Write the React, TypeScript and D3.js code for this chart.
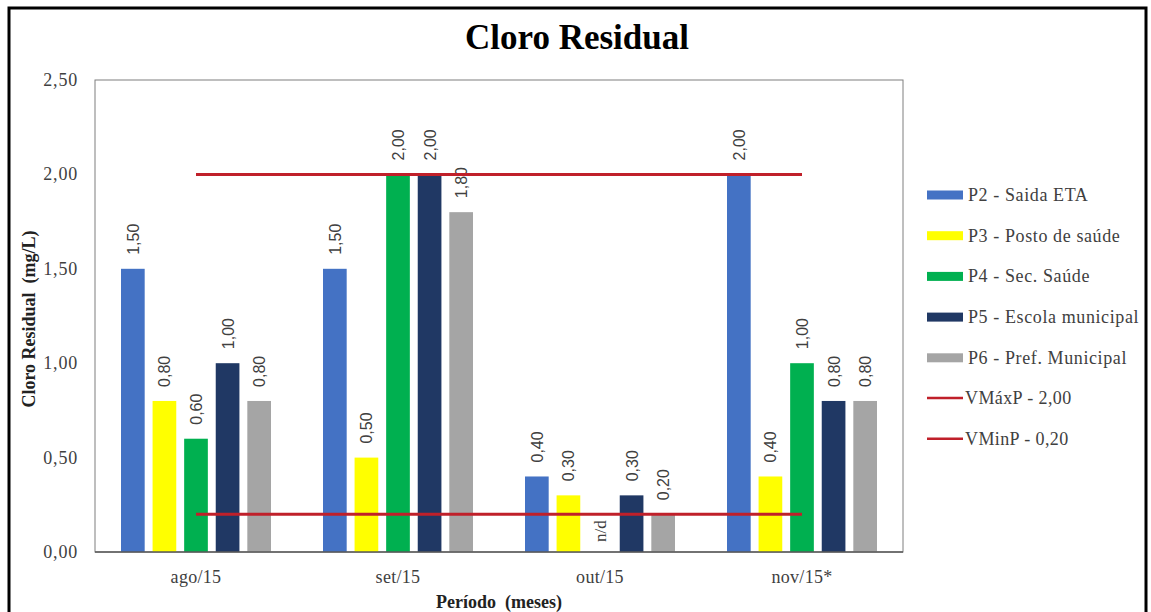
import * as d3 from 'd3';
import React from 'react';

const categories = ['ago/15', 'set/15', 'out/15', 'nov/15*'];
const seriesNames = [
    'P2 - Saida ETA',
    'P3 - Posto de saúde',
    'P4 - Sec. Saúde',
    'P5 - Escola municipal',
    'P6 - Pref. Municipal',
];
const p2 = [1.5, 1.5, 0.4, 2.0];
const p3 = [0.8, 0.5, 0.3, 0.4];
const p4 = [0.6, 2.0, null, 1.0];
const p5 = [1.0, 2.0, 0.3, 0.8];
const p6 = [0.8, 1.8, 0.2, 0.8];
const vMax = [2.0, 2.0, 2.0, 2.0];
const vMin = [0.2, 0.2, 0.2, 0.2];
const lineNames = ['VMáxP - 2,00', 'VMinP - 0,20'];
const yTicks = [0, 0.5, 1, 1.5, 2, 2.5];

const colours = ['#4472C4', '#FFFF00', '#00B050', '#203864', '#A5A5A5'];
const red = '#C0202A';
const serif = '"Liberation Serif", "Times New Roman", serif';
const sans = '"Liberation Sans", Arial, sans-serif';

const fmt = (v: number) => v.toFixed(2).replace('.', ',');

const App = () => {
    const width = 1151;
    const height = 612;
    const plot = { left: 95, right: 903, top: 80, bottom: 552 };
    const values = [p2, p3, p4, p5, p6];

    const x0 = d3.scaleBand().domain(categories).range([plot.left, plot.right]);
    const groupW = 150;
    const x1 = d3.scaleBand().domain(seriesNames)
        .range([-groupW / 2, groupW / 2]).paddingInner(0.25);
    const y = d3.scaleLinear().domain([0, 2.5]).range([plot.bottom, plot.top]);
    const cx = (c: string) => (x0(c) as number) + x0.bandwidth() / 2;

    const line = d3.line<number>()
        .x((_, i) => cx(categories[i]))
        .y(d => y(d));

    return (
        <svg width={width} height={height} style={{ position: 'absolute', left: 0, top: 0 }}>
            <rect x={0} y={0} width={width} height={height} fill="#fff" />
            <rect x={9} y={8} width={1137} height={640} fill="none" stroke="#000" strokeWidth={3} />

            <text x={577} y={49} textAnchor="middle" fontFamily={serif} fontWeight="bold" fontSize={35}>
                Cloro Residual
            </text>

            <rect x={plot.left} y={plot.top} width={plot.right - plot.left} height={plot.bottom - plot.top}
                fill="none" stroke="#7f7f7f" strokeWidth={1} />

            {yTicks.map(t => (
                <text key={t} x={78} y={y(t) + 6} textAnchor="end" fontFamily={serif} fontSize={18}
                    letterSpacing={0.8} fill="#404040">
                    {fmt(t)}
                </text>
            ))}

            {values.map((vals, s) => vals.map((v, i) => {
                const c = categories[i];
                const bx = cx(c) + (x1(seriesNames[s]) as number);
                const lx = bx + x1.bandwidth() / 2 + 6;
                if (v === null) {
                    return (
                        <text key={`${s}-${i}`} transform={`translate(${lx},${y(0) - 10}) rotate(-90)`}
                            fontFamily={serif} fontSize={17} fill="#404040">n/d</text>
                    );
                }
                return (
                    <g key={`${s}-${i}`}>
                        <rect x={bx} y={y(v)} width={x1.bandwidth()} height={y(0) - y(v)} fill={colours[s]} />
                        <text transform={`translate(${lx},${y(v) - 14}) rotate(-90)`}
                            fontFamily={sans} fontSize={16} fill="#404040">{fmt(v)}</text>
                    </g>
                );
            }))}

            <line x1={plot.left} x2={plot.right} y1={y(0)} y2={y(0)} stroke="#595959" strokeWidth={1.5} />

            <path d={line(vMax) as string} fill="none" stroke={red} strokeWidth={3} />
            <path d={line(vMin) as string} fill="none" stroke={red} strokeWidth={3} />

            {categories.map(c => (
                <text key={c} x={cx(c)} y={583} textAnchor="middle" fontFamily={serif} fontSize={18}
                    letterSpacing={0.3} fill="#404040">
                    {c}
                </text>
            ))}

            <text x={(plot.left + plot.right) / 2} y={608} textAnchor="middle" fontFamily={serif}
                fontWeight="bold" fontSize={18} fill="#222">Período&nbsp;&nbsp;(meses)</text>
            <text transform={`translate(35,${(plot.top + plot.bottom) / 2 + 3}) rotate(-90)`} textAnchor="middle"
                fontFamily={serif} fontWeight="bold" fontSize={18} fill="#222">Cloro Residual&nbsp;&nbsp;(mg/L)</text>

            {seriesNames.map((n, i) => (
                <g key={n} transform={`translate(927,${195 + i * 40.7})`}>
                    <rect x={0} y={-4.5} width={36} height={9} fill={colours[i]} />
                    <text x={41} y={6} fontFamily={serif} fontSize={18} letterSpacing={0.6} fill="#404040">{n}</text>
                </g>
            ))}
            {lineNames.map((n, i) => (
                <g key={n} transform={`translate(927,${398 + i * 40.7})`}>
                    <line x1={0} x2={36} y1={0} y2={0} stroke={red} strokeWidth={2.5} />
                    <text x={38} y={6} fontFamily={serif} fontSize={18} letterSpacing={0.4} fill="#404040">{n}</text>
                </g>
            ))}
        </svg>
    );
};

export default App;
